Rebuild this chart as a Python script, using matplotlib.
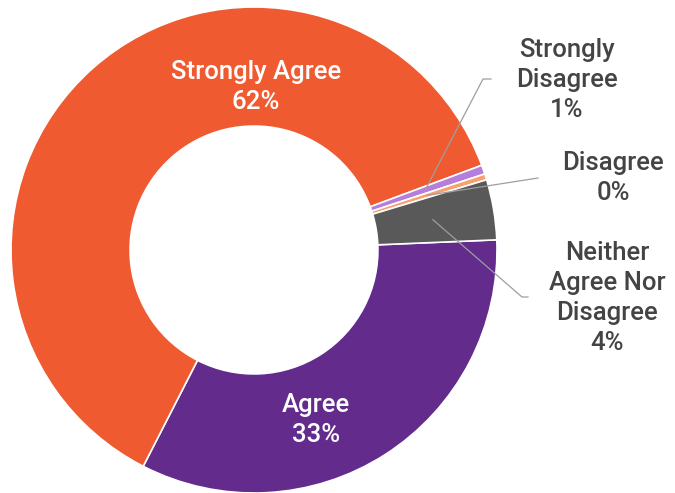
import matplotlib
matplotlib.use("Agg")
import matplotlib.pyplot as plt
import numpy as np

categories = ["Agree", "Strongly Agree", "Strongly Disagree", "Disagree", "Neither Agree Nor Disagree"]
label_text = ["Agree", "Strongly Agree", "Strongly\nDisagree", "Disagree", "Neither\nAgree Nor\nDisagree"]
values = [33.2, 61.8, 0.6, 0.4, 4.0]
colors = ["#622B8C", "#F05A30", "#B57EDC", "#F9A070", "#595959"]

W, H = 675, 493
fig = plt.figure(figsize=(W / 100, H / 100), dpi=100)
ax = fig.add_axes([0, 0, 1, 1])

cx, cy, R = 254, H - 250, 243
width_frac = 0.49
wedges, _ = ax.pie(values, colors=colors, startangle=2.4, counterclock=False,
                   radius=R, center=(cx, cy), frame=True,
                   wedgeprops=dict(width=R * width_frac, edgecolor="white", linewidth=1.2))
ax.set_xlim(0, W)
ax.set_ylim(0, H)
ax.set_aspect("equal")
ax.axis("off")

total = sum(values)
pct = [f"{round(v / total * 100):.0f}%" for v in values]

font = dict(family=["Roboto", "DejaVu Sans"], fontweight="medium", fontsize=18.5,
            ha="center", va="center", linespacing=1.32)

# Inside labels
inside = {0: (316, H - 420), 1: (256, H - 87)}
for i, (x, y) in inside.items():
    ax.text(x, y, f"{label_text[i]}\n{pct[i]}", color="white", **font)

# Outside labels with leader lines
outside = {
    2: dict(text=(567, H - 80), path=[(483, H - 79), (491, H - 79)]),
    3: dict(text=(613, H - 178), path=[(538, H - 178)]),
    4: dict(text=(607, H - 298), path=[(522, H - 297), (528, H - 297)]),
}
rmid = R * (1 - width_frac / 2) - 2
for i, spec in outside.items():
    w = wedges[i]
    ang = np.deg2rad((w.theta1 + w.theta2) / 2)
    sx, sy = cx + rmid * np.cos(ang), cy + rmid * np.sin(ang)
    pts = [(sx, sy)] + spec["path"]
    xs, ys = zip(*pts)
    ax.plot(xs, ys, color="#9E9E9E", linewidth=0.9, zorder=5)
    ax.text(*spec["text"], f"{label_text[i]}\n{pct[i]}", color="#444444", **font)

fig.savefig("out.png", dpi=100, facecolor="white")
